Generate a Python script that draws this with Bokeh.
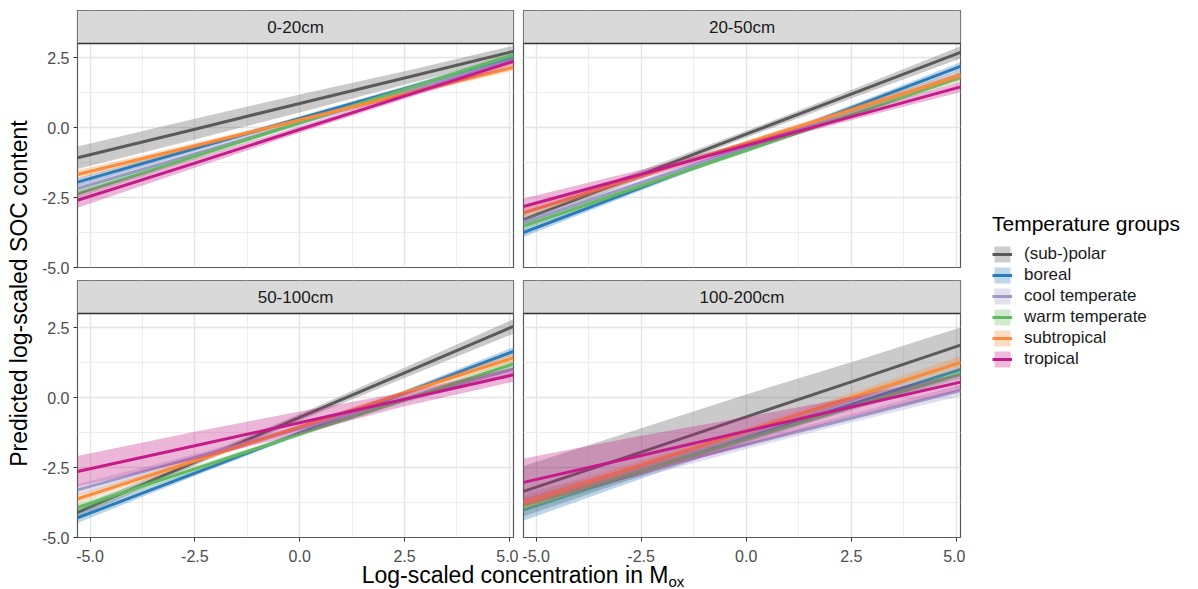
import numpy as np
from bokeh.plotting import figure
from bokeh.models import (Range1d, LinearAxis, Grid, FixedTicker, PrintfTickFormatter,
                          BoxAnnotation, Span, Label, Legend, LegendItem, Div, ColumnDataSource)
from bokeh.layouts import row, column
from bokeh.embed import file_html
from bokeh.resources import INLINE

# ---------------- data ----------------
GROUPS = ["(sub-)polar", "boreal", "cool temperate", "warm temperate", "subtropical", "tropical"]
DEPTHS = ["0-20cm", "20-50cm", "50-100cm", "100-200cm"]
X_POS = [-5.3, -2.5, 0.0, 2.5, 5.1]

# predicted values at X_POS, one row per group
FIT_0_20 = [[-1.08, -0.06, 0.86, 1.77, 2.72],
            [-1.95, -0.75, 0.32, 1.39, 2.50],
            [-2.18, -0.94, 0.17, 1.27, 2.42],
            [-2.36, -1.03, 0.17, 1.36, 2.60],
            [-1.68, -0.65, 0.27, 1.19, 2.15],
            [-2.60, -1.27, -0.07, 1.12, 2.36]]
FIT_20_50 = [[-3.29, -1.68, -0.24, 1.19, 2.68],
             [-3.75, -2.15, -0.73, 0.70, 2.18],
             [-3.40, -1.97, -0.70, 0.58, 1.90],
             [-3.52, -2.09, -0.82, 0.46, 1.78],
             [-3.05, -1.73, -0.55, 0.63, 1.86],
             [-2.82, -1.67, -0.64, 0.38, 1.45]]
FIT_50_100 = [[-4.10, -2.31, -0.71, 0.88, 2.54],
              [-4.30, -2.70, -1.27, 0.16, 1.65],
              [-3.30, -2.14, -1.10, -0.06, 1.02],
              [-3.93, -2.55, -1.31, -0.08, 1.20],
              [-3.62, -2.26, -1.05, 0.16, 1.42],
              [-2.64, -1.72, -0.90, -0.06, 0.81]]
FIT_100_200 = [[-3.35, -1.95, -0.69, 0.56, 1.87],
               [-4.00, -2.65, -1.45, -0.25, 1.00],
               [-3.70, -2.64, -1.69, -0.74, 0.25],
               [-3.90, -2.62, -1.48, -0.34, 0.85],
               [-3.76, -2.41, -1.21, -0.00, 1.25],
               [-3.03, -2.07, -1.20, -0.34, 0.55]]

# half widths of the confidence ribbons at X_POS
HW_0_20 = [[0.40, 0.37, 0.32, 0.24, 0.20],
           [0.15, 0.10, 0.08, 0.08, 0.10],
           [0.18, 0.12, 0.10, 0.10, 0.12],
           [0.15, 0.10, 0.08, 0.08, 0.10],
           [0.15, 0.10, 0.08, 0.09, 0.12],
           [0.27, 0.17, 0.12, 0.10, 0.12]]
HW_20_50 = [[0.20, 0.14, 0.12, 0.15, 0.22],
            [0.16, 0.10, 0.08, 0.10, 0.15],
            [0.15, 0.10, 0.08, 0.10, 0.15],
            [0.12, 0.08, 0.07, 0.08, 0.12],
            [0.15, 0.10, 0.08, 0.10, 0.15],
            [0.28, 0.16, 0.10, 0.12, 0.18]]
HW_50_100 = [[0.18, 0.12, 0.12, 0.18, 0.26],
             [0.18, 0.10, 0.08, 0.10, 0.15],
             [0.20, 0.12, 0.10, 0.12, 0.18],
             [0.15, 0.10, 0.08, 0.10, 0.15],
             [0.15, 0.10, 0.08, 0.10, 0.15],
             [0.55, 0.50, 0.40, 0.25, 0.25]]
HW_100_200 = [[0.90, 0.85, 0.80, 0.70, 0.63],
              [0.40, 0.25, 0.15, 0.18, 0.25],
              [0.30, 0.20, 0.15, 0.15, 0.20],
              [0.20, 0.12, 0.10, 0.12, 0.18],
              [0.25, 0.15, 0.12, 0.15, 0.22],
              [0.85, 0.70, 0.50, 0.35, 0.30]]

X_TICKS = [-5.0, -2.5, 0.0, 2.5, 5.0]
X_MINOR = [-3.75, -1.25, 1.25, 3.75]
Y_TICKS = [-5.0, -2.5, 0.0, 2.5]
Y_MINOR = [-3.75, -1.25, 1.25]

# ---------------- styles / layout ----------------
COLORS = ["#5a5a5a", "#2b7bba", "#9e9ac8", "#63b863", "#f98b3a", "#c51b8a"]
FONT = "Liberation Sans"
X_MIN, X_MAX = -5.3, 5.1
Y_MIN, Y_MAX = -5.0, 3.0
FRAME_W = 437
PLOT_PX = 224
STRIP_PX = 33
Y_TOP = Y_MAX + (Y_MAX - Y_MIN) * STRIP_PX / PLOT_PX
FRAME_H = PLOT_PX + STRIP_PX
YL_W = 38
LEFT_B = 38
GAP = 5
TOP_B = 10
MID_B = 8
BOT_TOP_B = 5
BOT_B = 30
XL_H = 22
TOTAL_H = (TOP_B + FRAME_H + MID_B) + (BOT_TOP_B + FRAME_H + BOT_B) + XL_H
PANELS_W = (LEFT_B + FRAME_W + GAP) + (GAP + FRAME_W + GAP)
LEG_W = 1198 - YL_W - PANELS_W


def style_axis(ax):
    ax.axis_line_color = None
    ax.major_tick_line_color = "#333333"
    ax.major_tick_out = 4
    ax.major_tick_in = 0
    ax.minor_tick_line_color = None
    ax.major_label_text_font = FONT
    ax.major_label_text_font_size = "16px"
    ax.major_label_text_color = "#4d4d4d"
    ax.major_label_standoff = 4


def make_panel(idx, fits, hws, left, bottom):
    top_b = TOP_B if idx < 2 else BOT_TOP_B
    bot_b = MID_B if idx < 2 else BOT_B
    lb = LEFT_B if left else GAP
    p = figure(width=lb + FRAME_W + GAP, height=top_b + FRAME_H + bot_b,
               x_range=Range1d(X_MIN, X_MAX), y_range=Range1d(Y_MIN, Y_TOP),
               x_axis_location=None, y_axis_location=None,
               toolbar_location=None, output_backend="svg",
               min_border_left=lb, min_border_right=GAP,
               min_border_top=top_b, min_border_bottom=bot_b)
    p.grid.visible = False
    p.background_fill_color = "white"
    p.border_fill_color = "white"
    p.outline_line_color = "#595959"
    p.outline_line_width = 1.2

    for dim, ticks, minor in ((0, X_TICKS, X_MINOR), (1, Y_TICKS, Y_MINOR)):
        g = Grid(dimension=dim, ticker=FixedTicker(ticks=ticks, minor_ticks=minor),
                 grid_line_color="#e4e4e4", grid_line_width=1.3,
                 minor_grid_line_color="#ededed", minor_grid_line_width=1.0)
        p.add_layout(g)

    for gi, name in enumerate(GROUPS):
        fit = np.array(fits[gi])
        hw = np.array(hws[gi])
        src = ColumnDataSource(dict(x=X_POS, y=fit, lo=fit - hw, hi=fit + hw))
        p.varea(x="x", y1="lo", y2="hi", source=src, fill_color=COLORS[gi], fill_alpha=0.32)
        p.line(x="x", y="y", source=src, line_color=COLORS[gi], line_width=3)

    p.add_layout(BoxAnnotation(bottom=Y_MAX, fill_color="#d9d9d9", fill_alpha=1.0,
                               line_color=None))
    p.add_layout(Span(location=Y_MAX, dimension="width", line_color="#333333", line_width=1.6))
    p.add_layout(Label(x=(X_MIN + X_MAX) / 2, y=(Y_MAX + Y_TOP) / 2, text=DEPTHS[idx],
                       text_align="center", text_baseline="middle",
                       text_font=FONT, text_font_size="17px", text_color="#1a1a1a"))

    if left:
        ax = LinearAxis(ticker=FixedTicker(ticks=Y_TICKS), formatter=PrintfTickFormatter(format="%.1f"))
        style_axis(ax)
        p.add_layout(ax, "left")
    if bottom:
        ax = LinearAxis(ticker=FixedTicker(ticks=X_TICKS), formatter=PrintfTickFormatter(format="%.1f"))
        style_axis(ax)
        ax.major_label_standoff = 8
        p.add_layout(ax, "below")
    return p


FITS = [FIT_0_20, FIT_20_50, FIT_50_100, FIT_100_200]
HWS = [HW_0_20, HW_20_50, HW_50_100, HW_100_200]
panels = [make_panel(i, FITS[i], HWS[i], left=(i % 2 == 0), bottom=(i >= 2)) for i in range(4)]

# y-axis title
yf = figure(width=YL_W, height=TOTAL_H, x_range=Range1d(0, YL_W), y_range=Range1d(0, TOTAL_H),
            x_axis_location=None, y_axis_location=None, toolbar_location=None,
            output_backend="svg", min_border=0)
yf.outline_line_color = None
yf.grid.visible = False
yf.add_layout(Label(x=18, y=TOTAL_H - 293, text="Predicted log-scaled SOC content",
                    angle=np.pi / 2, text_align="center", text_baseline="middle",
                    text_font=FONT, text_font_size="23px", text_color="#000000"))

# x-axis title
xdiv = Div(text='<div style="display:block;width:884px;margin-left:38px;text-align:center;'
                'font-family:\'Liberation Sans\',Arial,sans-serif;font-size:23px;line-height:25px;'
                'position:relative;top:-9px;color:#000;white-space:nowrap;">'
                'Log-scaled concentration in M<span style="font-size:15px;position:relative;top:4px;">ox</span></div>',
           width=PANELS_W, height=XL_H)

# legend (its glyph renderers sit outside the legend figure's visible ranges)
lf = figure(width=LEG_W, height=TOTAL_H, x_range=Range1d(100, 101), y_range=Range1d(100, 101),
            x_axis_location=None, y_axis_location=None, toolbar_location=None,
            output_backend="svg", min_border=0)
lf.outline_line_color = None
lf.grid.visible = False
items = []
for gi, name in enumerate(GROUPS):
    fit = np.array(FIT_0_20[gi])
    hw = np.array(HW_0_20[gi])
    src = ColumnDataSource(dict(x=X_POS, y=fit, lo=fit - hw, hi=fit + hw))
    b = lf.varea(x="x", y1="lo", y2="hi", source=src, fill_color=COLORS[gi], fill_alpha=0.3)
    l = lf.line(x="x", y="y", source=src, line_color=COLORS[gi], line_width=3)
    items.append(LegendItem(label=name, renderers=[b, l]))
legend = Legend(items=items, location=(17, TOTAL_H - 369), title="Temperature groups",
                title_text_font=FONT, title_text_font_size="21px", title_text_font_style="normal",
                title_text_color="#000000", title_standoff=8,
                label_text_font=FONT, label_text_font_size="17px", label_text_color="#1a1a1a",
                glyph_width=20, glyph_height=20, label_height=20, spacing=1, label_standoff=12,
                padding=0, margin=0, border_line_color=None, background_fill_alpha=0)
lf.add_layout(legend)

layout = row(yf, column(row(panels[0], panels[1]), row(panels[2], panels[3]), xdiv), lf)

with open("out.html", "w") as f:
    f.write(file_html(layout, INLINE))
